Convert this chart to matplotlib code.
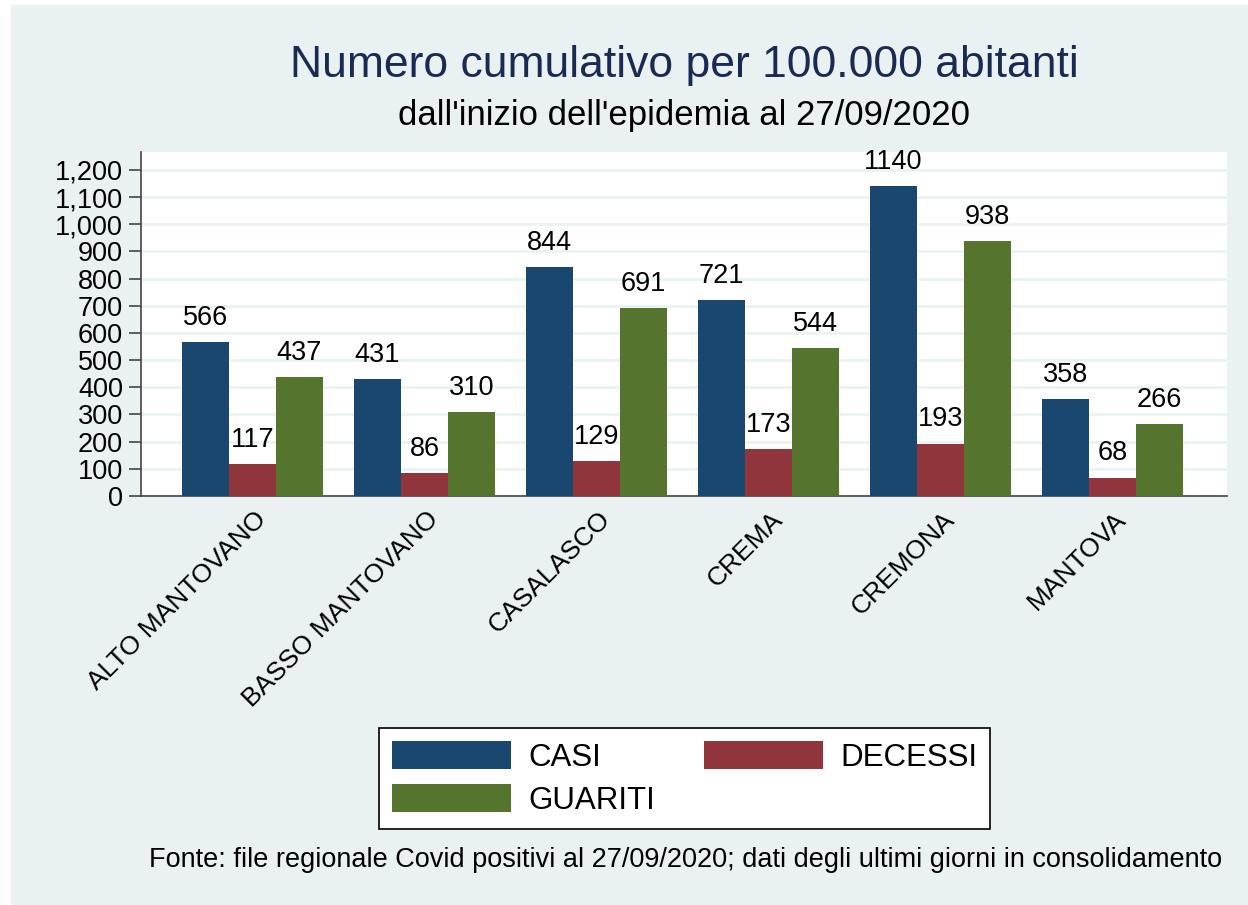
import numpy as np
import matplotlib
matplotlib.use("Agg")
from matplotlib import pyplot as plt
from matplotlib.patches import Rectangle
from matplotlib.transforms import ScaledTranslation

# data
zone = ["ALTO MANTOVANO", "BASSO MANTOVANO", "CASALASCO", "CREMA", "CREMONA", "MANTOVA"]
casi = [566, 431, 844, 721, 1140, 358]
decessi = [117, 86, 129, 173, 193, 68]
guariti = [437, 310, 691, 544, 938, 266]
yticks = [0, 100, 200, 300, 400, 500, 600, 700, 800, 900, 1000, 1100, 1200]

plt.rcParams['font.family'] = ['Liberation Sans', 'DejaVu Sans']

BG = "#e9f1f3"
FS = 19.5
fig = plt.figure(figsize=(12.48, 9.05), dpi=100, facecolor="white")
fig.patches.append(Rectangle((11 / 1248, 0), 1 - 11 / 1248, 1 - 5 / 905,
                             transform=fig.transFigure, color=BG, zorder=-10))

ax = fig.add_axes([141 / 1248, 1 - 496 / 905, (1227 - 141) / 1248, (496 - 152) / 905])
ax.set_facecolor("white")

x = np.arange(len(zone))
w = 0.273
series = [(casi, "#1a476f", "CASI"), (decessi, "#90353b", "DECESSI"), (guariti, "#55752f", "GUARITI")]
bars = []
for i, (vals, col, lab) in enumerate(series):
    b = ax.bar(x + (i - 1) * w, vals, w, color=col, label=lab, zorder=3)
    bars.append(b)
    for xi, v in zip(x + (i - 1) * w, vals):
        ax.annotate(str(v), (xi, v), xytext=(0, 8), textcoords="offset points",
                    ha="center", va="bottom", fontsize=FS, color="black")

ax.set_xlim(-0.648, 5.665)
ax.set_ylim(0, 1266)
ax.set_yticks(yticks)
ax.set_yticklabels(["{:,}".format(t) for t in yticks], fontsize=FS)
ax.yaxis.grid(True, color="#eaf2f3", linewidth=2, zorder=0)
ax.tick_params(axis="y", length=9, width=1.2, color="#444444", pad=4)
ax.tick_params(axis="x", length=0, pad=14)
ax.set_xticks(x)
ax.set_xticklabels(zone, rotation=45, ha="right", va="center", rotation_mode="anchor", fontsize=19)
for lab in ax.get_xticklabels():
    lab.set_transform(lab.get_transform() + ScaledTranslation(10 / 100, 0, fig.dpi_scale_trans))

for s in ["top", "right"]:
    ax.spines[s].set_visible(False)
ax.spines["left"].set_color("#444444")
ax.spines["bottom"].set_color("#444444")
ax.spines["left"].set_linewidth(1.2)
ax.spines["bottom"].set_linewidth(1.2)

fig.text(684 / 1248, 1 - 66 / 905, "Numero cumulativo per 100.000 abitanti",
         ha="center", va="center", fontsize=32, color="#1b2a50")
fig.text(684 / 1248, 1 - 115 / 905, "dall'inizio dell'epidemia al 27/09/2020",
         ha="center", va="center", fontsize=25, color="black")

handles = [bars[0], bars[2], bars[1]]
leg = fig.legend(handles, ["CASI", "GUARITI", "DECESSI"], ncol=2, loc="center",
                 bbox_to_anchor=(684.5 / 1248, 1 - 778.5 / 905), fontsize=22.5,
                 handlelength=3.82, handleheight=1.0, handletextpad=0.55,
                 columnspacing=1.55, labelspacing=0.38, borderpad=0.4,
                 fancybox=False, edgecolor="black", framealpha=1)
leg.get_frame().set_linewidth(1.2)

fig.text(1222 / 1248, 1 - 860 / 905,
         "Fonte: file regionale Covid positivi al 27/09/2020; dati degli ultimi giorni in consolidamento",
         ha="right", va="center", fontsize=FS, color="black")

fig.savefig("out.png", dpi=100, facecolor=fig.get_facecolor())
